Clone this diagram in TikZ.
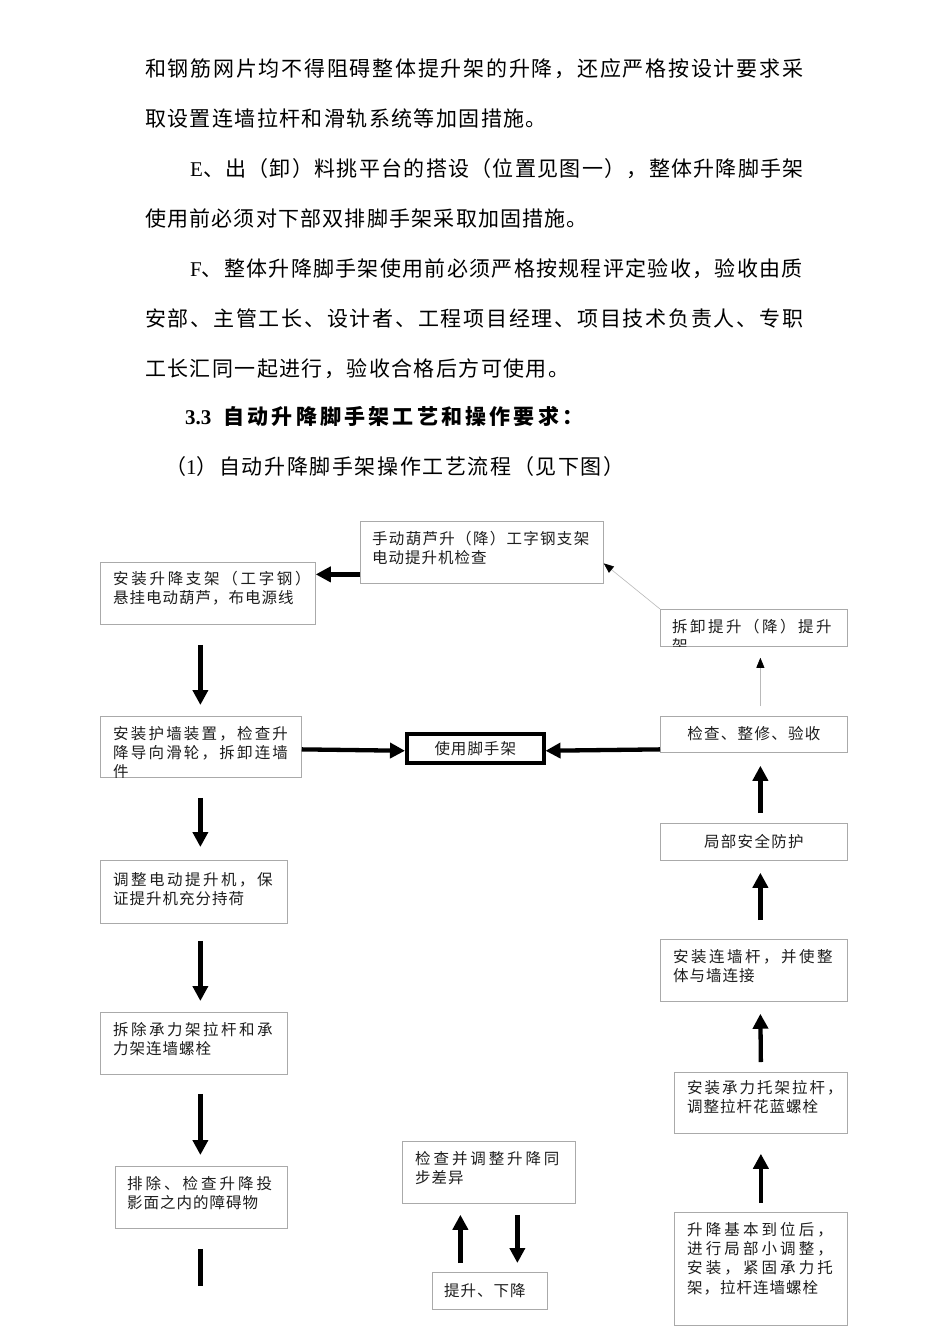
\documentclass[tikz,border=0pt]{standalone}
\usepackage{fontspec}
\setmainfont{Liberation Serif}
\newfontfamily\cjk{Noto Sans CJK SC}
\usetikzlibrary{arrows.meta}
\XeTeXinterchartokenstate=1
\newXeTeXintercharclass\mycjkclass
\newcount\mycc
\mycc="4E00
\loop\XeTeXcharclass\mycc=\mycjkclass\relax\advance\mycc by 1\relax\ifnum\mycc<"A000\repeat
\mycc="3000
\loop\XeTeXcharclass\mycc=\mycjkclass\relax\advance\mycc by 1\relax\ifnum\mycc<"3040\repeat
\mycc="FF00
\loop\XeTeXcharclass\mycc=\mycjkclass\relax\advance\mycc by 1\relax\ifnum\mycc<"FFF0\repeat
\newdimen\cjkgap
\cjkgap=0pt
\XeTeXinterchartoks\mycjkclass\mycjkclass={\hskip\cjkgap\relax}
\newcommand\jl[2]{{\cjkgap=#1\relax #2}}
\newcommand\fbx[5]{\node[box, minimum width=#4pt, minimum height=#5pt] (#1) at (#2,#3) {};}
\definecolor{boxgray}{RGB}{170,170,170}
\definecolor{thgray}{RGB}{185,185,185}
\definecolor{txtc}{RGB}{30,30,30}
\begin{document}
\begin{tikzpicture}[x=1pt,y=-1pt,
  box/.style={draw=boxgray, line width=0.75pt, inner sep=0pt, anchor=north west},
  btxt/.style={anchor=north west, inner sep=0pt, align=left, text=txtc, font=\cjk\fontsize{15.5}{19.3}\selectfont},
  ctxt/.style={inner sep=0pt, text=txtc, font=\cjk\fontsize{15.5}{19}\selectfont},
  body/.style={anchor=base west, inner sep=0pt, font=\fontsize{21}{21}\selectfont},
  tarrow/.style={line width=4.3pt, -{Triangle[length=15pt,width=15pt]}},
  tharrow/.style={draw=thgray, line width=0.6pt, -{Triangle[length=10pt,width=8pt,color=black]}}]
\fill[white] (0,0) rectangle (950,1344);
\useasboundingbox (0,0) rectangle (950,1344);
% body text
\node[body] (l1) at (145,76) {\cjk\jl{1.75pt}{和钢筋网片均不得阻碍整体提升架的升降，还应严格按设计要求采}};
\node[body] (l2) at (145,126) {\cjk\jl{1.4pt}{取设置连墙拉杆和滑轨系统等加固措施。}};
\node[body] (l3) at (190,176) {E\cjk\jl{1.3pt}{、出（卸）料挑平台的搭设（位置见图一），整体升降脚手架}};
\node[body] (l4) at (145,226) {\cjk\jl{1.2pt}{使用前必须对下部双排脚手架采取加固措施。}};
\node[body] (l5) at (190,276) {F\cjk\jl{1.3pt}{、整体升降脚手架使用前必须严格按规程评定验收，验收由质}};
\node[body] (l6) at (145,326) {\cjk\jl{1.75pt}{安部、主管工长、设计者、工程项目经理、项目技术负责人、专职}};
\node[body] (l7) at (145,376) {\cjk\jl{1.4pt}{工长汇同一起进行，验收合格后方可使用。}};
\node[body] (l8) at (185,424) {\bfseries 3.3\hspace{12pt}\cjk\bfseries\jl{3.2pt}{自动升降脚手架工艺和操作要求：}};
\node[body] (l9) at (165,474) {{\cjk （}1{\cjk\jl{1.6pt}{）自动升降脚手架操作工艺流程（见下图）}}};
% boxes
\fbx{A}{360}{521}{243}{62}
\fbx{B}{100}{562}{215}{62}
\fbx{C}{660}{609}{187}{37}
\fbx{D}{660}{716}{187}{36}
\fbx{F}{100}{716}{201}{61}
\fbx{G}{100}{860}{187}{63}
\fbx{H}{100}{1012}{187}{62}
\fbx{I}{115}{1166}{172}{62}
\fbx{J}{402}{1141}{173}{62}
\fbx{K}{432}{1272}{115}{37}
\fbx{L}{674}{1212}{173}{113}
\fbx{M}{674}{1072}{173}{61}
\fbx{N}{660}{939}{187}{62}
\fbx{O}{660}{823}{187}{37}
\node[draw=black, line width=3.5pt, minimum width=137pt, minimum height=29pt, anchor=north west, inner sep=0pt] (E) at (405,732) {};
% box texts
\node[btxt] (At) at ([shift={(12,10)}]A.north west) {\jl{1.3pt}{手动葫芦升（降）工字钢支架}\\\jl{1pt}{电动提升机检查}};
\node[btxt] (Bt) at ([shift={(13,9)}]B.north west) {\jl{2.7pt}{安装升降支架（工字钢）}\\\jl{1pt}{悬挂电动葫芦，布电源线}};
\begin{scope}
\clip (C.north west) rectangle (C.south east);
\node[btxt] (Ct) at ([shift={(12,10)}]C.north west) {\jl{2.5pt}{拆卸提升（降）提升}\\架};
\end{scope}
\node[ctxt] (Dt) at ([shift={(0,-1)}]D.center) {\jl{1.3pt}{检查、整修、验收}};
\node[ctxt] (Et) at (E.center) {\jl{1pt}{使用脚手架}};
\begin{scope}
\clip (F.north west) rectangle (F.south east);
\node[btxt] (Ft) at ([shift={(13,10)}]F.north west) {\jl{2.2pt}{安装护墙装置，检查升}\\\jl{2.2pt}{降导向滑轮，拆卸连墙}\\件};
\end{scope}
\node[btxt] (Gt) at ([shift={(13,12)}]G.north west) {\jl{2.5pt}{调整电动提升机，保}\\\jl{1pt}{证提升机充分持荷}};
\node[btxt] (Ht) at ([shift={(13,10)}]H.north west) {\jl{2.5pt}{拆除承力架拉杆和承}\\\jl{1pt}{力架连墙螺栓}};
\node[btxt] (It) at ([shift={(12,10)}]I.north west) {\jl{3pt}{排除、检查升降投}\\\jl{1pt}{影面之内的障碍物}};
\node[btxt] (Jt) at ([shift={(13,10)}]J.north west) {\jl{2.9pt}{检查并调整升降同}\\\jl{1pt}{步差异}};
\node[btxt] (Kt) at ([shift={(12,11)}]K.north west) {\jl{1pt}{提升、下降}};
\node[btxt] (Lt) at ([shift={(13,10)}]L.north west) {\jl{3.1pt}{升降基本到位后，}\\\jl{3.1pt}{进行局部小调整，}\\\jl{3.1pt}{安装，紧固承力托}\\\jl{1pt}{架，拉杆连墙螺栓}};
\node[btxt] (Mt) at ([shift={(13,8)}]M.north west) {\jl{2pt}{安装承力托架拉杆，}\\\jl{1pt}{调整拉杆花蓝螺栓}};
\node[btxt] (Nt) at ([shift={(13,10)}]N.north west) {\jl{2.5pt}{安装连墙杆，并使整}\\\jl{1pt}{体与墙连接}};
\node[ctxt] (Ot) at ([shift={(0,0)}]O.center) {\jl{1.3pt}{局部安全防护}};
% connectors
\draw[tarrow] ([yshift=-22pt]A.west) -- ([yshift=19pt]B.east);
\draw[tarrow] ([yshift=-2.5pt]F.east) -- ([yshift=-2.5pt]E.west);
\draw[tarrow] ([yshift=-15pt]D.west) -- ([yshift=-2.5pt]E.east);
\draw[tarrow] ([xshift=-7.5pt,yshift=-20pt]B.south) -- ([xshift=-0.5pt,yshift=11pt]F.north);
\draw[tarrow] ([xshift=-0.5pt,yshift=-20pt]F.south) -- ([xshift=6.5pt,yshift=13pt]G.north);
\draw[tarrow] ([xshift=6.5pt,yshift=-17pt]G.south) -- ([xshift=6.5pt,yshift=11pt]H.north);
\draw[tarrow] ([xshift=6.5pt,yshift=-19pt]H.south) -- ([xshift=-1pt,yshift=11pt]I.north);
\draw[line width=4.3pt] ([xshift=-1pt,yshift=-20pt]I.south) -- ([xshift=-1pt,yshift=-57pt]I.south);
\draw[tarrow] ([xshift=-29.5pt,yshift=9pt]K.north) -- ([xshift=-28.5pt,yshift=-11pt]J.south);
\draw[tarrow] ([xshift=28.5pt,yshift=-11pt]J.south) -- ([xshift=27.5pt,yshift=9pt]K.north);
\draw[tarrow] ([yshift=9pt]L.north) -- ([yshift=-20pt]M.south);
\draw[tarrow] ([yshift=10pt]M.north) -- ([xshift=6.5pt,yshift=-12pt]N.south);
\draw[tarrow] ([xshift=6.5pt,yshift=19pt]N.north) -- ([xshift=6.5pt,yshift=-12pt]O.south);
\draw[tarrow] ([xshift=6.5pt,yshift=10pt]O.north) -- ([xshift=6.5pt,yshift=-13pt]D.south);
\draw[tharrow] ([xshift=6.5pt,yshift=10pt]D.north) -- ([xshift=6.5pt,yshift=-11pt]C.south);
\draw[tharrow] (C.north west) -- ([yshift=-11pt]A.east);
\end{tikzpicture}
\end{document}
